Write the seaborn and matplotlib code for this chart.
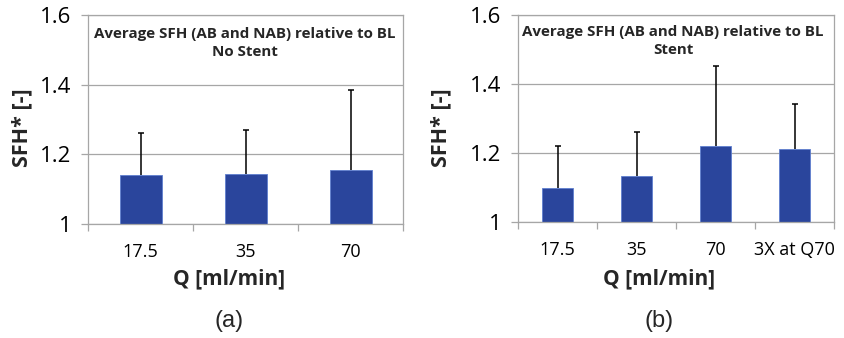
import matplotlib
matplotlib.use("Agg")
import matplotlib.pyplot as plt
import matplotlib.font_manager as fm
import seaborn as sns
import pandas as pd

# Mean SFH* relative to baseline, with upper error (SD)
cats_a = ["17.5", "35", "70"]
mean_a = [1.14, 1.144, 1.156]
err_a = [0.12, 0.125, 0.23]

cats_b = ["17.5", "35", "70", "3X at Q70"]
mean_b = [1.097, 1.133, 1.22, 1.21]
err_b = [0.123, 0.127, 0.231, 0.133]

yticks = [1.0, 1.2, 1.4, 1.6]
ytick_labels = ["1", "1.2", "1.4", "1.6"]

sns.set_theme(style="white")
names = {f.name for f in fm.fontManager.ttflist}
main_font = "Open Sans" if "Open Sans" in names else "DejaVu Sans"
narrow_font = "Liberation Sans Narrow" if "Liberation Sans Narrow" in names else "Liberation Sans"
plt.rcParams["font.family"] = [main_font, "DejaVu Sans"]

BAR = "#2a459c"
GRID = "#a6a6a6"

fig = plt.figure(figsize=(8.44, 3.38), dpi=100)
ax_a = fig.add_axes([88 / 844, 1 - 224 / 338, 315 / 844, 209 / 338])
ax_b = fig.add_axes([518 / 844, 1 - 221.7 / 338, 316 / 844, 206.7 / 338])


def panel(ax, cats, means, errs, title, title_xy, ylabel_x, letter, letter_x):
    df = pd.DataFrame({"Q": cats, "SFH": means})
    sns.barplot(data=df, x="Q", y="SFH", ax=ax, color=BAR, width=0.4,
                saturation=1, edgecolor="#5f7fcf", linewidth=0.6, errorbar=None)
    xs = list(range(len(cats)))
    tops = [m + e for m, e in zip(means, errs)]
    # upper-only error bars: stem from bar top plus a short cap
    ax.vlines(xs, means, tops, color="black", linewidth=1.1, zorder=5)
    ax.scatter(xs, tops, marker="_", s=22, color="black", linewidths=1.1, zorder=5)
    ax.set_ylim(1.0, 1.6)
    ax.set_xlim(-0.5, len(cats) - 0.5)
    ax.set_yticks(yticks)
    ax.set_yticklabels(ytick_labels)
    ax.yaxis.grid(True, color=GRID, linewidth=0.9)
    ax.set_axisbelow(True)
    for s in ax.spines.values():
        s.set_color(GRID)
        s.set_linewidth(0.9)
    ax.tick_params(axis="y", which="major", left=True, length=5, width=0.9,
                   color=GRID, pad=7, labelsize=16, labelcolor="black")
    ax.tick_params(axis="x", which="major", bottom=False, pad=8,
                   labelsize=13, labelcolor="black")
    ax.set_xticks([i - 0.5 for i in range(len(cats) + 1)], minor=True)
    ax.tick_params(axis="x", which="minor", bottom=True, length=5, width=0.9,
                   color=GRID)
    ax.set_xlabel("")
    ax.set_ylabel("")
    fig.text(title_xy[0] / 844, 1 - title_xy[1] / 338, title, ha="center", va="center",
             fontsize=10.9, fontweight="bold", linespacing=1.45, multialignment="center")
    fig.text(ylabel_x / 844, 1 - 128 / 338, "SFH* [-]", rotation=90, ha="center",
             va="center", fontsize=15.5, fontweight="bold")
    fig.text(letter_x / 844, 1 - 279 / 338, "Q [ml/min]", ha="center", va="center",
             fontsize=15, fontweight="bold")
    fig.text(letter_x / 844, 1 - 321 / 338, letter, ha="center", va="center",
             fontsize=17, family=[narrow_font, "DejaVu Sans"])


panel(ax_a, cats_a, mean_a, err_a,
      "Average SFH (AB and NAB) relative to BL\nNo Stent", (245, 43), 22, "(a)", 229)
panel(ax_b, cats_b, mean_b, err_b,
      "Average SFH (AB and NAB) relative to BL\nStent", (673, 41), 441, "(b)", 659)

fig.savefig("out.png", dpi=100, facecolor="white")
